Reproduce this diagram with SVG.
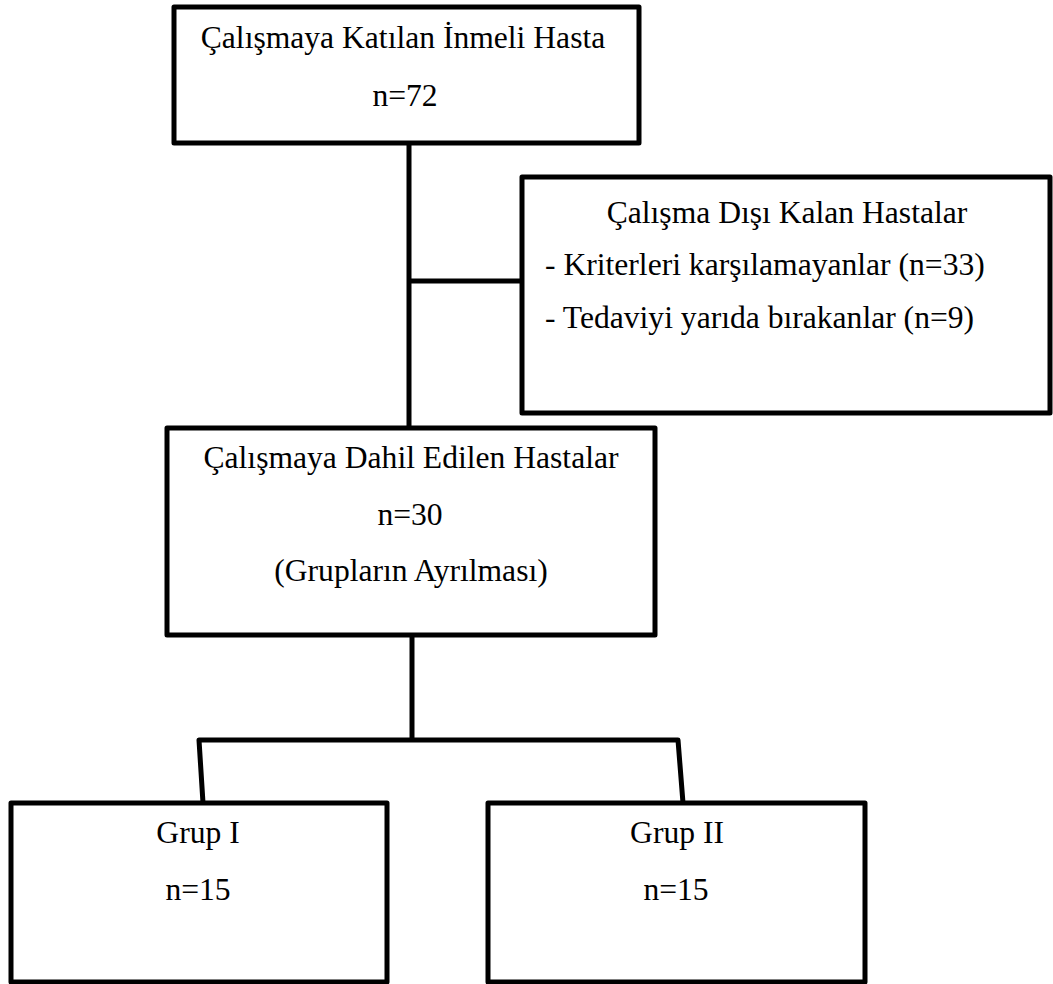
<svg xmlns="http://www.w3.org/2000/svg" width="1053" height="984" viewBox="0 0 1053 984">
<style>
.box{fill:#fff;stroke:#000;stroke-width:5;stroke-linejoin:round}
.con{fill:none;stroke:#000;stroke-width:5;stroke-linejoin:round}
text{font-family:"Liberation Serif","Times New Roman",serif;font-size:31.6px;fill:#000}
.c{text-anchor:middle}
</style>
<rect width="1053" height="984" fill="#fff"/>
<g id="connectors">
<line class="con" x1="409" y1="143" x2="409" y2="428"/>
<line class="con" x1="409" y1="281" x2="522" y2="281"/>
<line class="con" x1="412" y1="635" x2="412" y2="740"/>
<polyline class="con" points="203,803 199,740 678,740 683,803"/>
</g>
<g id="n-top">
<rect class="box" x="174" y="7" width="465" height="136"/>
<text class="c" x="403" y="48">Çalışmaya Katılan İnmeli Hasta</text>
<text class="c" x="405" y="106">n=72</text>
</g>
<g id="n-excluded">
<rect class="box" x="522" y="177" width="528" height="236"/>
<text class="c" x="787" y="223">Çalışma Dışı Kalan Hastalar</text>
<text x="545" y="275">- Kriterleri karşılamayanlar (n=33)</text>
<text x="545" y="328">- Tedaviyi yarıda bırakanlar (n=9)</text>
</g>
<g id="n-included">
<rect class="box" x="167" y="428" width="488" height="207"/>
<text class="c" x="411" y="468">Çalışmaya Dahil Edilen Hastalar</text>
<text class="c" x="410" y="525">n=30</text>
<text class="c" x="411" y="581">(Grupların Ayrılması)</text>
</g>
<g id="n-grup1">
<rect class="box" x="11" y="803" width="376" height="179"/>
<text class="c" x="198" y="843">Grup I</text>
<text class="c" x="198" y="900">n=15</text>
</g>
<g id="n-grup2">
<rect class="box" x="488" y="803" width="377" height="179"/>
<text class="c" x="677" y="843">Grup II</text>
<text class="c" x="676" y="900">n=15</text>
</g>
</svg>
